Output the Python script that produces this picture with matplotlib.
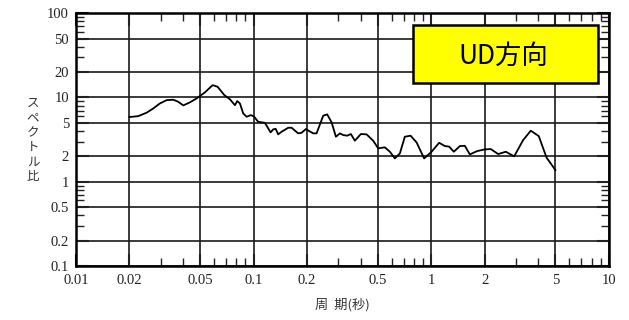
import matplotlib
matplotlib.use("Agg")
import matplotlib.pyplot as plt
from matplotlib.ticker import FixedLocator, NullFormatter, FixedFormatter
from matplotlib.patches import Rectangle

# Spectral ratio (UD component) versus period
period = [0.020, 0.0224, 0.025, 0.0272, 0.0297, 0.0324, 0.0353, 0.0376, 0.0402, 0.0438,
          0.0478, 0.0532, 0.0588, 0.0627, 0.0683, 0.0736, 0.0785, 0.0809, 0.0837, 0.0874,
          0.0913, 0.0966, 0.1008, 0.106, 0.1158, 0.1208, 0.1246, 0.1289, 0.133, 0.1375,
          0.1438, 0.1566, 0.1636, 0.1782, 0.1863, 0.197, 0.2056, 0.2165, 0.2262, 0.2465,
          0.2596, 0.2748, 0.2906, 0.3059, 0.3193, 0.3364, 0.3528, 0.3716, 0.4016, 0.4324,
          0.471, 0.5027, 0.548, 0.585, 0.624, 0.666, 0.71, 0.7646, 0.8268, 0.912,
          1.004, 1.108, 1.193, 1.261, 1.34, 1.449, 1.545, 1.649, 1.813, 2.003,
          2.165, 2.38, 2.629, 2.93, 3.29, 3.635, 4.03, 4.46, 5.0]
ratio = [5.86, 6.0, 6.6, 7.4, 8.5, 9.3, 9.4, 8.9, 8.05, 8.75,
         9.75, 11.5, 14.0, 13.4, 10.7, 9.5, 8.1, 9.06, 8.5, 6.47,
         5.9, 6.18, 5.9, 5.15, 5.0, 4.3, 3.85, 4.18, 4.25, 3.65,
         3.92, 4.37, 4.37, 3.75, 3.81, 4.22, 3.99, 3.75, 3.75, 6.07,
         6.3, 5.07, 3.42, 3.75, 3.58, 3.52, 3.68, 3.07, 3.68, 3.65,
         3.07, 2.49, 2.56, 2.27, 1.89, 2.17, 3.42, 3.52, 2.93, 1.89,
         2.27, 2.9, 2.65, 2.61, 2.27, 2.65, 2.67, 2.11, 2.31, 2.42,
         2.44, 2.13, 2.27, 2.0, 3.12, 4.03, 3.48, 1.93, 1.376]

x_ticks = [0.01, 0.02, 0.05, 0.1, 0.2, 0.5, 1, 2, 5, 10]
x_tick_labels = ["0.01", "0.02", "0.05", "0.1", "0.2", "0.5", "1", "2", "5", "10"]
y_ticks = [0.1, 0.2, 0.5, 1, 2, 5, 10, 20, 50, 100]
y_tick_labels = ["0.1", "0.2", "0.5", "1", "2", "5", "10", "20", "50", "100"]
x_label = "周  期(秒)"
y_label = "スペクトル比"
box_title = "UD方向"

num_font = "Liberation Serif"
jp_font = ["Noto Sans CJK JP", "DejaVu Sans"]

fig = plt.figure(figsize=(6.29, 3.20), dpi=100)
ax = fig.add_axes([0.1208, 0.16875, 0.8472, 0.79])

ax.set_xscale("log")
ax.set_yscale("log")
ax.set_xlim(0.01, 10)
ax.set_ylim(0.1, 100)

ax.plot(period, ratio, color="black", lw=1.3, zorder=3)

def minors(lo_exp, hi_exp):
    vals = []
    for e in range(lo_exp, hi_exp):
        for m in (3, 4, 6, 7, 8, 9):
            vals.append(m * 10.0 ** e)
    return vals

ax.xaxis.set_major_locator(FixedLocator(x_ticks))
ax.xaxis.set_major_formatter(FixedFormatter(x_tick_labels))
ax.xaxis.set_minor_locator(FixedLocator(minors(-2, 1)))
ax.xaxis.set_minor_formatter(NullFormatter())
ax.yaxis.set_major_locator(FixedLocator(y_ticks))
ax.yaxis.set_major_formatter(FixedFormatter(y_tick_labels))
ax.yaxis.set_minor_locator(FixedLocator(minors(-1, 2)))
ax.yaxis.set_minor_formatter(NullFormatter())

ax.grid(True, which="major", color="#1a1a1a", lw=1.2, zorder=1)
ax.tick_params(which="both", direction="in", top=True, right=True, color="#222222")
ax.tick_params(which="major", length=9, width=1.5, labelsize=10.5)
ax.tick_params(axis="x", which="major", pad=6)
ax.tick_params(axis="y", which="major", pad=5)
ax.tick_params(which="minor", length=6, width=1.0)
for lab in ax.get_xticklabels() + ax.get_yticklabels():
    lab.set_fontfamily(num_font)
    lab.set_color("#222222")

for sp in ax.spines.values():
    sp.set_linewidth(1.8)
    sp.set_color("black")

# x-axis title
fig.text(342 / 629, 1 - 305 / 320, x_label, family=jp_font, fontsize=9.5,
         ha="center", va="center", color="#333333")

# vertical stacked y-axis title
n = len(y_label)
step = 14.7
top_y = 140 - step * (n - 1) / 2
for i, ch in enumerate(y_label):
    fig.text(33 / 629, 1 - (top_y + i * step) / 320, ch, family=jp_font,
             fontsize=9, ha="center", va="center", color="#333333")

# title box
ax.add_patch(Rectangle((0.632, 0.723), 0.347, 0.230, transform=ax.transAxes,
                       facecolor="#ffff00", edgecolor="black", lw=1.8, zorder=5))
ax.text(0.632 + 0.347 / 2 - 0.004, 0.723 + 0.115 - 0.008, box_title, transform=ax.transAxes,
        family=jp_font, fontsize=19, ha="center", va="center", color="black", zorder=6)

fig.savefig("out.png", dpi=100)
